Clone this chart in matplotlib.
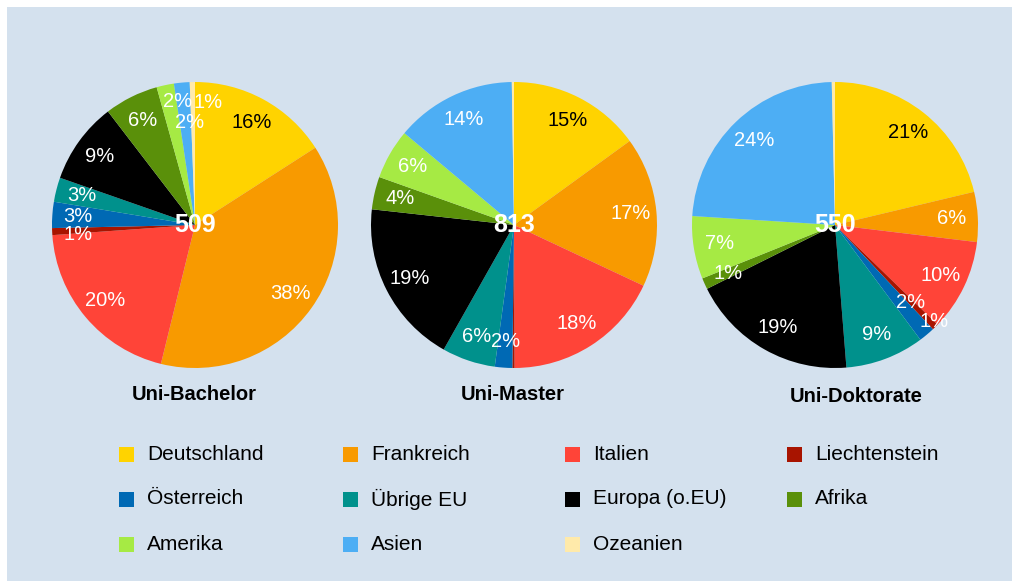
import matplotlib
matplotlib.use("Agg")
import matplotlib.pyplot as plt
from matplotlib.patches import Rectangle

plt.rcParams["font.family"] = ["Liberation Sans", "DejaVu Sans"]

# Herkunft der Studierenden (Anzahl Personen)
categories = ["Deutschland", "Frankreich", "Italien", "Liechtenstein",
              "Österreich", "Übrige EU", "Europa (o.EU)", "Afrika",
              "Amerika", "Asien", "Ozeanien"]
titles = ["Uni-Bachelor", "Uni-Master", "Uni-Doktorate"]
bachelor = [81, 193, 102, 4, 15, 14, 47, 31, 10, 9, 3]
master = [122, 138, 146, 2, 16, 49, 151, 30, 46, 111, 2]
doktorate = [117, 31, 57, 4, 10, 49, 104, 7, 39, 130, 2]
series = [bachelor, master, doktorate]

COLORS = ["#FFD300", "#F89A00", "#FF4438", "#A81400", "#0069B4", "#00918C",
          "#000000", "#5A900A", "#A6EA44", "#4DAEF4", "#FFEAAA"]
BG = "#D4E1EE"

W, H = 1013, 581
fig = plt.figure(figsize=(W / 100, H / 100), dpi=100, facecolor="white")
fig.patches.append(Rectangle((7 / W, 0), (1012 - 7) / W, 1 - 7 / H,
                             transform=fig.transFigure, facecolor=BG,
                             edgecolor="none", zorder=-1))


def px_axes(cx, cy, r):
    return fig.add_axes([(cx - r) / W, 1 - (cy + r) / H, 2 * r / W, 2 * r / H])


def pct_label(p):
    return f"{round(p)}%" if round(p) >= 1 else ""


# pie centres / title positions in pixels
pie_centers = [(195, 225), (514, 225), (835, 225)]
title_pos = [(194, 395), (513, 395), (856, 397)]
radius = 143

# small shifts for crowded labels (axes data units)
nudges = [
    {3: (0.0, -0.03), 8: (0.05, 0.06), 9: (0.04, -0.10), 10: (0.11, 0.04)},
    {},
    {3: (0.12, -0.09), 4: (0.0, 0.09)},
]

for values, (cx, cy), title, (tx, ty), nudge in zip(series, pie_centers, titles,
                                                    title_pos, nudges):
    ax = px_axes(cx, cy, radius)
    wedges, texts, autotexts = ax.pie(
        values, colors=COLORS, startangle=90, counterclock=False,
        autopct=pct_label, pctdistance=0.82, radius=1,
        wedgeprops=dict(linewidth=0),
        textprops=dict(fontsize=14.5, color="white"))
    autotexts[0].set_color("black")
    for i, (dx, dy) in nudge.items():
        x, y = autotexts[i].get_position()
        autotexts[i].set_position((x + dx, y + dy))
    ax.set_xlim(-1, 1)
    ax.set_ylim(-1, 1)
    ax.set_aspect("equal")
    ax.axis("off")
    ax.text(0, 0, str(sum(values)), ha="center", va="center", color="white",
            fontsize=18, fontweight="bold")
    fig.text(tx / W, 1 - ty / H, title, ha="center", va="center",
             fontsize=14.5, fontweight="bold", color="black")

# legend: 4 columns, 3 rows
col_x = [119, 343, 565, 787]
row_y = [454, 499, 544]
sq = 15
for i, (name, color) in enumerate(zip(categories, COLORS)):
    x = col_x[i % 4]
    y = row_y[i // 4]
    fig.patches.append(Rectangle((x / W, 1 - (y + sq / 2) / H), sq / W, sq / H,
                                 transform=fig.transFigure, facecolor=color,
                                 edgecolor="none"))
    fig.text((x + 28) / W, 1 - y / H, name, ha="left", va="center",
             fontsize=15, color="black")

fig.savefig("out.png", dpi=100, facecolor="white")
